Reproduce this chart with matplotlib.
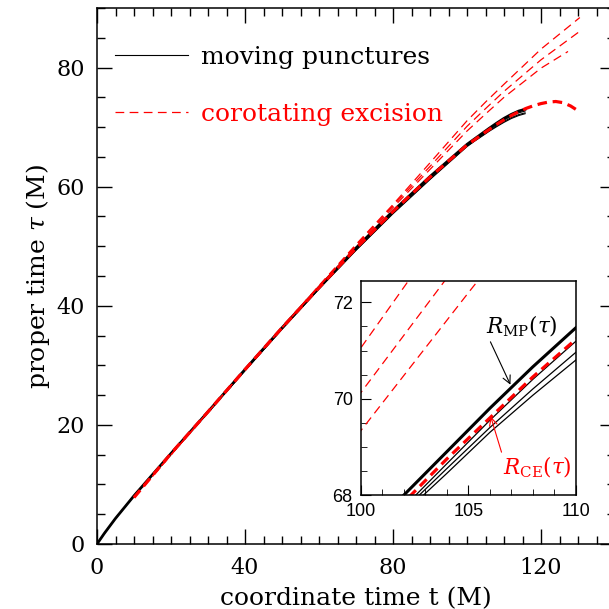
import matplotlib
matplotlib.use("Agg")
import matplotlib.pyplot as plt
from matplotlib.ticker import MultipleLocator

# moving punctures: coordinate time t (M) vs proper time tau (M)
t_mp = [0, 2, 5, 10, 20, 30, 40, 50, 60, 70, 80, 90, 100, 102, 104, 106, 108, 110, 112, 114, 115.7]
tau_mp_main = [0, 1.8, 4.3, 8.1, 15.2, 22.2, 29.3, 36.3, 43.1, 49.7, 55.9, 61.7, 67.1, 68.0, 68.9, 69.8, 70.66, 71.47, 72.15, 72.7, 73.0]
tau_mp_a = [0, 1.8, 4.3, 8.1, 15.2, 22.15, 29.2, 36.2, 42.95, 49.5, 55.7, 61.5, 66.85, 67.75, 68.65, 69.55, 70.4, 71.19, 71.85, 72.4, 72.7]
tau_mp_b = [0, 1.8, 4.3, 8.1, 15.2, 22.1, 29.15, 36.1, 42.85, 49.35, 55.55, 61.3, 66.8, 67.69, 68.55, 69.4, 70.2, 70.96, 71.6, 72.1, 72.4]
tau_mp_c = [0, 1.8, 4.3, 8.1, 15.2, 22.1, 29.1, 36.05, 42.8, 49.3, 55.45, 61.2, 66.72, 67.62, 68.45, 69.3, 70.07, 70.8, 71.45, 71.95, 72.25]

# corotating excision
t_ce = [10, 20, 30, 40, 50, 60, 70, 80, 90, 100, 102, 104, 106, 108, 110, 112, 114, 116, 118, 120, 122, 124, 126, 128, 129.5]
tau_ce = [7.8, 15.2, 22.2, 29.3, 36.3, 43.05, 49.65, 55.85, 61.6, 67.0, 67.85, 68.75, 69.6, 70.45, 71.23, 71.95, 72.6, 73.15, 73.6, 73.95, 74.2, 74.3, 74.1, 73.55, 72.95]

t_up = [10, 40, 60, 70, 80, 90, 100, 105, 110, 120, 130.5]
tau_up1 = [7.8, 29.35, 43.4, 50.3, 57.0, 64.0, 71.06, 74.2, 77.2, 83.1, 88.4]
tau_up2 = [7.8, 29.35, 43.3, 50.15, 56.8, 63.4, 70.13, 73.1, 76.0, 81.3, 86.1]
t_up3 = [10, 40, 60, 70, 80, 90, 100, 105, 110, 120, 127.3]
tau_up3 = [7.8, 29.3, 43.2, 50.0, 56.5, 62.9, 69.34, 72.2, 75.0, 79.9, 82.7]

plt.rcParams['font.family'] = ['DejaVu Serif']
plt.rcParams['mathtext.fontset'] = 'dejavuserif'

fig = plt.figure(figsize=(6.09, 6.09), dpi=100)
ax = fig.add_axes([97/609, 65/609, 518/609, 536/609])


def draw_curves(a, thick=2.0, thin=0.8, dthick=2.3, dthin=0.9):
    a.plot(t_mp, tau_mp_a, color="black", lw=thin, label="moving punctures")
    a.plot(t_mp, tau_mp_b, color="black", lw=thin)
    a.plot(t_mp, tau_mp_c, color="black", lw=thin)
    a.plot(t_mp, tau_mp_main, color="black", lw=thick)
    a.plot(t_up, tau_up1, color="red", lw=dthin, dashes=(7.0, 4.3), label="corotating excision")
    a.plot(t_up, tau_up2, color="red", lw=dthin, dashes=(7.0, 4.3))
    a.plot(t_up3, tau_up3, color="red", lw=dthin, dashes=(7.0, 4.3))
    a.plot(t_ce, tau_ce, color="red", lw=dthick, dashes=(3.0, 1.8))


draw_curves(ax)

ax.set_xlim(0, 140)
ax.set_ylim(0, 90)
ax.xaxis.set_major_locator(MultipleLocator(40))
ax.xaxis.set_minor_locator(MultipleLocator(5))
ax.yaxis.set_major_locator(MultipleLocator(20))
ax.yaxis.set_minor_locator(MultipleLocator(5))
ax.tick_params(which="both", direction="in", top=True, right=True, labelsize=16, width=1.0)
ax.tick_params(which="major", length=11, pad=9)
ax.tick_params(which="minor", length=5.5)
for s in ax.spines.values():
    s.set_linewidth(1.1)

ax.set_xlabel("coordinate time t (M)", fontsize=18, labelpad=6)
ax.set_ylabel(r"proper time $\tau$ (M)", fontsize=18, labelpad=3)

leg = ax.legend(loc="upper left", bbox_to_anchor=(0.035, 0.930), frameon=False,
                borderpad=0, borderaxespad=0, handlelength=2.9, handletextpad=0.55,
                labelspacing=1.38, fontsize=18)
leg.get_texts()[1].set_color("red")

# inset zoom
ins = fig.add_axes([361/609, 114/609, 214.7/609, 214.3/609])
draw_curves(ins, thick=2.2, thin=0.9, dthick=2.3, dthin=0.9)
ins.set_xlim(100, 110)
ins.set_ylim(68, 72.45)
ins.xaxis.set_major_locator(MultipleLocator(5))
ins.xaxis.set_minor_locator(MultipleLocator(1))
ins.yaxis.set_major_locator(MultipleLocator(2))
ins.yaxis.set_minor_locator(MultipleLocator(0.5))
ins.tick_params(which="both", direction="in", labelsize=13)
ins.tick_params(which="major", length=7.5, pad=6)
ins.tick_params(which="minor", length=4)
for lab in ins.get_xticklabels() + ins.get_yticklabels():
    lab.set_family("Liberation Sans")
for s in ins.spines.values():
    s.set_linewidth(1.1)

ins.annotate(r"$R_{\rm MP}(\tau)$", xy=(106.96, 70.29), xytext=(107.5, 71.5),
             ha="center", va="center", fontsize=15.5,
             arrowprops=dict(arrowstyle="->", color="black", lw=0.8, relpos=(0.0, 0.25),
                             shrinkA=0, shrinkB=0, mutation_scale=14))
ins.annotate(r"$R_{\rm CE}(\tau)$", xy=(106.04, 69.63), xytext=(108.2, 68.57),
             ha="center", va="center", fontsize=15.5, color="red",
             arrowprops=dict(arrowstyle="->", color="red", lw=0.8, relpos=(0.0, 0.95),
                             shrinkA=0, shrinkB=0, mutation_scale=14))

fig.savefig("out.png", dpi=100)
